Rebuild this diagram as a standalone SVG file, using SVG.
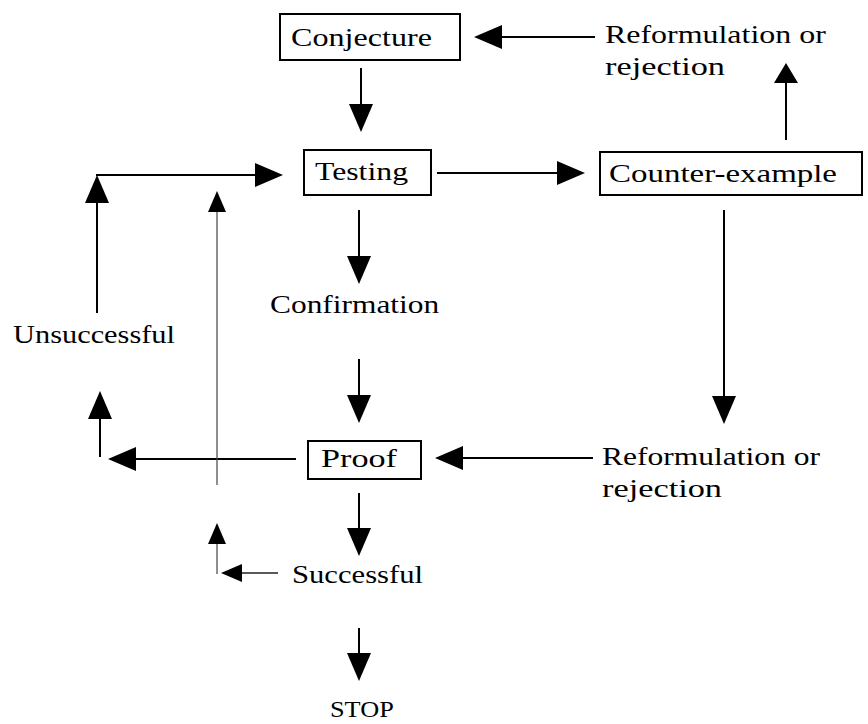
<svg xmlns="http://www.w3.org/2000/svg" width="868" height="724" viewBox="0 0 868 724">
  <style>
    .box { fill: #fff; stroke: #000; stroke-width: 2; }
    .lbl { font-family: "Liberation Serif", "Times New Roman", serif; font-size: 26px; fill: #000; }
    .ln { fill: none; stroke: #000; stroke-width: 2; }
    .thin { fill: none; stroke: #444; stroke-width: 1.2; }
    .mid { fill: none; stroke: #222; stroke-width: 1.5; }
  </style>
  <defs>
    <!-- arrowheads: path starts at the base, so lines stop at the base -->
    <marker id="ah" viewBox="0 0 28 24" refX="0" refY="12" markerWidth="28" markerHeight="24" markerUnits="userSpaceOnUse" orient="auto">
      <path d="M0,0 L28,12 L0,24 Z" fill="#000"/>
    </marker>
    <marker id="ahShort" viewBox="0 0 20 24" refX="0" refY="12" markerWidth="20" markerHeight="24" markerUnits="userSpaceOnUse" orient="auto">
      <path d="M0,0 L20,12 L0,24 Z" fill="#000"/>
    </marker>
    <marker id="ahSmall" viewBox="0 0 21 18" refX="0" refY="9" markerWidth="21" markerHeight="18" markerUnits="userSpaceOnUse" orient="auto">
      <path d="M0,0 L21,9 L0,18 Z" fill="#000"/>
    </marker>
  </defs>

  <g id="connectors">
    <line class="ln" x1="361" y1="68" x2="361" y2="104" marker-end="url(#ah)"/>
    <line class="ln" x1="595" y1="37" x2="502" y2="37" marker-end="url(#ah)"/>
    <line class="ln" x1="786" y1="140" x2="786" y2="83" marker-end="url(#ahShort)"/>
    <line class="ln" x1="437" y1="173" x2="557" y2="173" marker-end="url(#ah)"/>
    <line class="ln" x1="359" y1="210" x2="359" y2="256" marker-end="url(#ah)"/>
    <line class="ln" x1="359" y1="359" x2="359" y2="395" marker-end="url(#ah)"/>
    <line class="ln" x1="724" y1="210" x2="724" y2="396" marker-end="url(#ah)"/>
    <line class="ln" x1="593" y1="458" x2="463" y2="458" marker-end="url(#ah)"/>
    <line class="ln" x1="296" y1="459" x2="136" y2="459" marker-end="url(#ah)"/>
    <line class="ln" x1="100" y1="457" x2="100" y2="419" marker-end="url(#ah)"/>
    <line class="ln" x1="97" y1="313" x2="97" y2="203" marker-end="url(#ah)"/>
    <line class="ln" x1="96" y1="175" x2="255" y2="175" marker-end="url(#ah)"/>
    <line class="thin" x1="217" y1="485" x2="217" y2="212" marker-end="url(#ahSmall)"/>
    <line class="ln" x1="359" y1="493" x2="359" y2="528" marker-end="url(#ah)"/>
    <line class="mid" x1="278" y1="573" x2="242" y2="573" marker-end="url(#ahSmall)"/>
    <line class="thin" x1="217" y1="574" x2="217" y2="544" marker-end="url(#ahSmall)"/>
    <line class="ln" x1="359" y1="628" x2="359" y2="653" marker-end="url(#ah)"/>
  </g>

  <!-- labels are set in a serif face widened horizontally -->
  <g id="conjecture">
    <rect class="box" x="280" y="14" width="180" height="46"/>
    <text class="lbl" transform="translate(291,46) scale(1.2,1)" textLength="117.5" lengthAdjust="spacingAndGlyphs">Conjecture</text>
  </g>
  <g id="testing">
    <rect class="box" x="304" y="150" width="127" height="45"/>
    <text class="lbl" transform="translate(315,180) scale(1.2,1)" textLength="77.5" lengthAdjust="spacingAndGlyphs">Testing</text>
  </g>
  <g id="counter-example">
    <rect class="box" x="600" y="152" width="262" height="43"/>
    <text class="lbl" transform="translate(609,182) scale(1.2,1)" textLength="190" lengthAdjust="spacingAndGlyphs">Counter-example</text>
  </g>
  <g id="reformulation-top">
    <text class="lbl" transform="translate(605,43) scale(1.2,1)" textLength="184" lengthAdjust="spacingAndGlyphs">Reformulation or</text>
    <text class="lbl" transform="translate(605,75) scale(1.2,1)" textLength="100" lengthAdjust="spacingAndGlyphs">rejection</text>
  </g>
  <g id="confirmation">
    <text class="lbl" transform="translate(270,313) scale(1.2,1)" textLength="141" lengthAdjust="spacingAndGlyphs">Confirmation</text>
  </g>
  <g id="unsuccessful">
    <text class="lbl" transform="translate(13,343) scale(1.2,1)" textLength="135" lengthAdjust="spacingAndGlyphs">Unsuccessful</text>
  </g>
  <g id="proof">
    <rect class="box" x="308" y="441" width="113" height="38"/>
    <text class="lbl" transform="translate(321,467) scale(1.2,1)" textLength="63.3" lengthAdjust="spacingAndGlyphs">Proof</text>
  </g>
  <g id="reformulation-bottom">
    <text class="lbl" transform="translate(602,465) scale(1.2,1)" textLength="181.7" lengthAdjust="spacingAndGlyphs">Reformulation or</text>
    <text class="lbl" transform="translate(602,497) scale(1.2,1)" textLength="100" lengthAdjust="spacingAndGlyphs">rejection</text>
  </g>
  <g id="successful">
    <text class="lbl" transform="translate(292,583) scale(1.2,1)" textLength="109.2" lengthAdjust="spacingAndGlyphs">Successful</text>
  </g>
  <g id="stop">
    <text class="lbl" transform="translate(330,717) scale(1.1,1)" style="font-size:24px" textLength="58" lengthAdjust="spacingAndGlyphs">STOP</text>
  </g>
</svg>
